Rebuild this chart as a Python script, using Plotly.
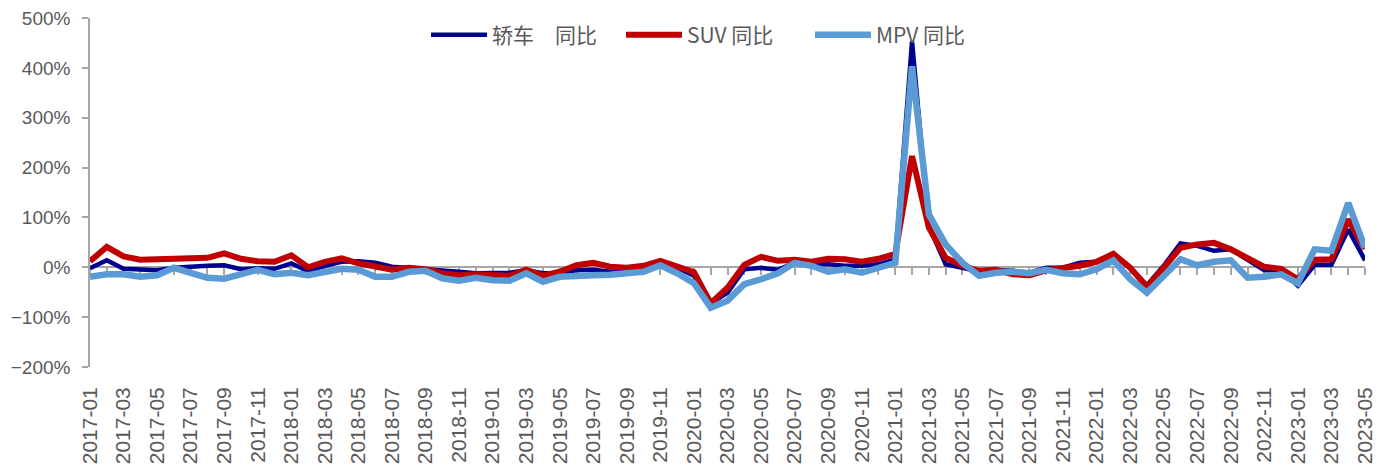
import plotly.graph_objects as go

months = [f"{y}-{m:02d}" for y in range(2017, 2024) for m in range(1, 13)][:77]

sedan = [-2, 14, -3, -5, -6, -1, 2, 3, 4, -4, -2, -3, 8, -8, 3, 11, 12, 9, 1, -1,
         -4, -7, -9, -12, -12, -11, -6, -12, -12, -6, -5, -9, -7, -6, 9, -1,
         -17, -72, -51, -4, -1, -5, 9, 6, 6, 3, 3, 6,
         16, 453, 83, 6, -1, -9, -6, -7, -11, -1, -1, 9,
         11, 24, -1, -36, 3, 48, 43, 33, 36, 14, -6, -6,
         -37, 5, 5, 76, 14]
suv = [12, 41, 22, 15, 16, 18, 20, 19, 28, 17, 12, 11, 24, 0, 11, 18, 8, 1, -5, -1,
       -4, -12, -16, -14, -16, -17, -5, -17, -9, 4, 9, 1, -1, 3, 13, 3,
       -10, -72, -41, 5, 21, 13, 15, 11, 17, 16, 11, 17,
       27, 223, 80, 19, 3, -7, -5, -14, -16, -6, -2, 3,
       11, 27, -1, -39, -1, 39, 46, 49, 36, 17, 1, -3,
       -24, 15, 16, 96, 37]
mpv = [-19, -14, -14, -19, -16, -1, -11, -21, -23, -14, -5, -14, -11, -16, -9, -3, -5, -19, -19, -9,
       -7, -22, -27, -21, -26, -27, -12, -29, -19, -19, -16, -15, -12, -9, 4, -12,
       -32, -81, -67, -34, -24, -12, 9, 3, -9, -4, -11, -1,
       9, 403, 106, 46, 9, -17, -11, -9, -12, -5, -12, -14,
       -4, 14, -24, -51, -17, 16, 4, 11, 14, -21, -19, -14,
       -32, 36, 33, 129, 39]

names = ["轿车　同比", "SUV 同比", "MPV 同比"]
colors = ["#000090", "#C00000", "#5B9BD5"]
widths = [4.5, 6, 6.5]
series = [sedan, suv, mpv]
legends = ["legend", "legend2", "legend3"]

idx = list(range(len(months)))
tick_idx = idx[::2]
tick_txt = [months[i] for i in tick_idx]

fig = go.Figure()
for name, data, col, w, lg in zip(names, series, colors, widths, legends):
    fig.add_trace(go.Scatter(x=idx, y=data, mode="lines", name=name,
                             line=dict(color=col, width=w), legend=lg))

# helper trace for the zero-line category axis
fig.add_trace(go.Scatter(x=[idx[0], idx[-1]], y=[0, 0], xaxis="x2", mode="markers",
                         marker=dict(opacity=0), showlegend=False, hoverinfo="skip"))

gray = "#A6A6A6"
tickfont = dict(family="Liberation Sans, Arial, sans-serif", size=19, color="#595959")
legfont = dict(family="Noto Sans CJK SC, sans-serif", size=21, color="#595959")

# page has an 8px body margin; compensate
L, R, T, B = 82, 31, 10, 109
PW = 1388 - L - R
PH = 468 - T - B
ly = (PH - (27 - T)) / PH

fig.update_layout(
    width=1388, height=468,
    margin=dict(l=L, r=R, t=T, b=B, autoexpand=False),
    paper_bgcolor="white", plot_bgcolor="white",
    xaxis=dict(range=[0, 76], tickmode="array", tickvals=tick_idx, ticktext=tick_txt,
               tickangle=-90, showgrid=False, zeroline=False, showline=False,
               ticks="", automargin=False, ticklabeloverflow="allow",
               tickfont=dict(family="Liberation Sans, Arial, sans-serif", size=21, color="#595959"),
               ticklabelstandoff=15),
    xaxis2=dict(range=[0, 76], overlaying="x", anchor="free", position=200 / 700,
                side="bottom", showgrid=False, zeroline=False, showline=True,
                linecolor=gray, linewidth=1.5, ticks="outside", ticklen=7, tickcolor=gray,
                tickwidth=1.5, tickmode="linear", tick0=0, dtick=1, automargin=False,
                showticklabels=False, layer="below traces"),
    yaxis=dict(range=[-200, 500], dtick=100, tick0=0, ticksuffix="%", showgrid=False,
               zeroline=False, showline=True, linecolor=gray, linewidth=1.5,
               ticks="outside", ticklen=6, tickcolor=gray, tickwidth=1.5, automargin=False,
               ticklabeloverflow="allow", tickfont=tickfont, ticklabelstandoff=8),
    legend=dict(x=(418 - L) / PW, y=ly, xanchor="left", yanchor="middle",
                font=legfont, itemwidth=56, bgcolor="rgba(0,0,0,0)"),
    legend2=dict(x=(613 - L) / PW, y=ly, xanchor="left", yanchor="middle",
                 font=legfont, itemwidth=56, bgcolor="rgba(0,0,0,0)"),
    legend3=dict(x=(802 - L) / PW, y=ly, xanchor="left", yanchor="middle",
                 font=legfont, itemwidth=56, bgcolor="rgba(0,0,0,0)"),
    showlegend=True,
)

fig.write_html("out.html")
